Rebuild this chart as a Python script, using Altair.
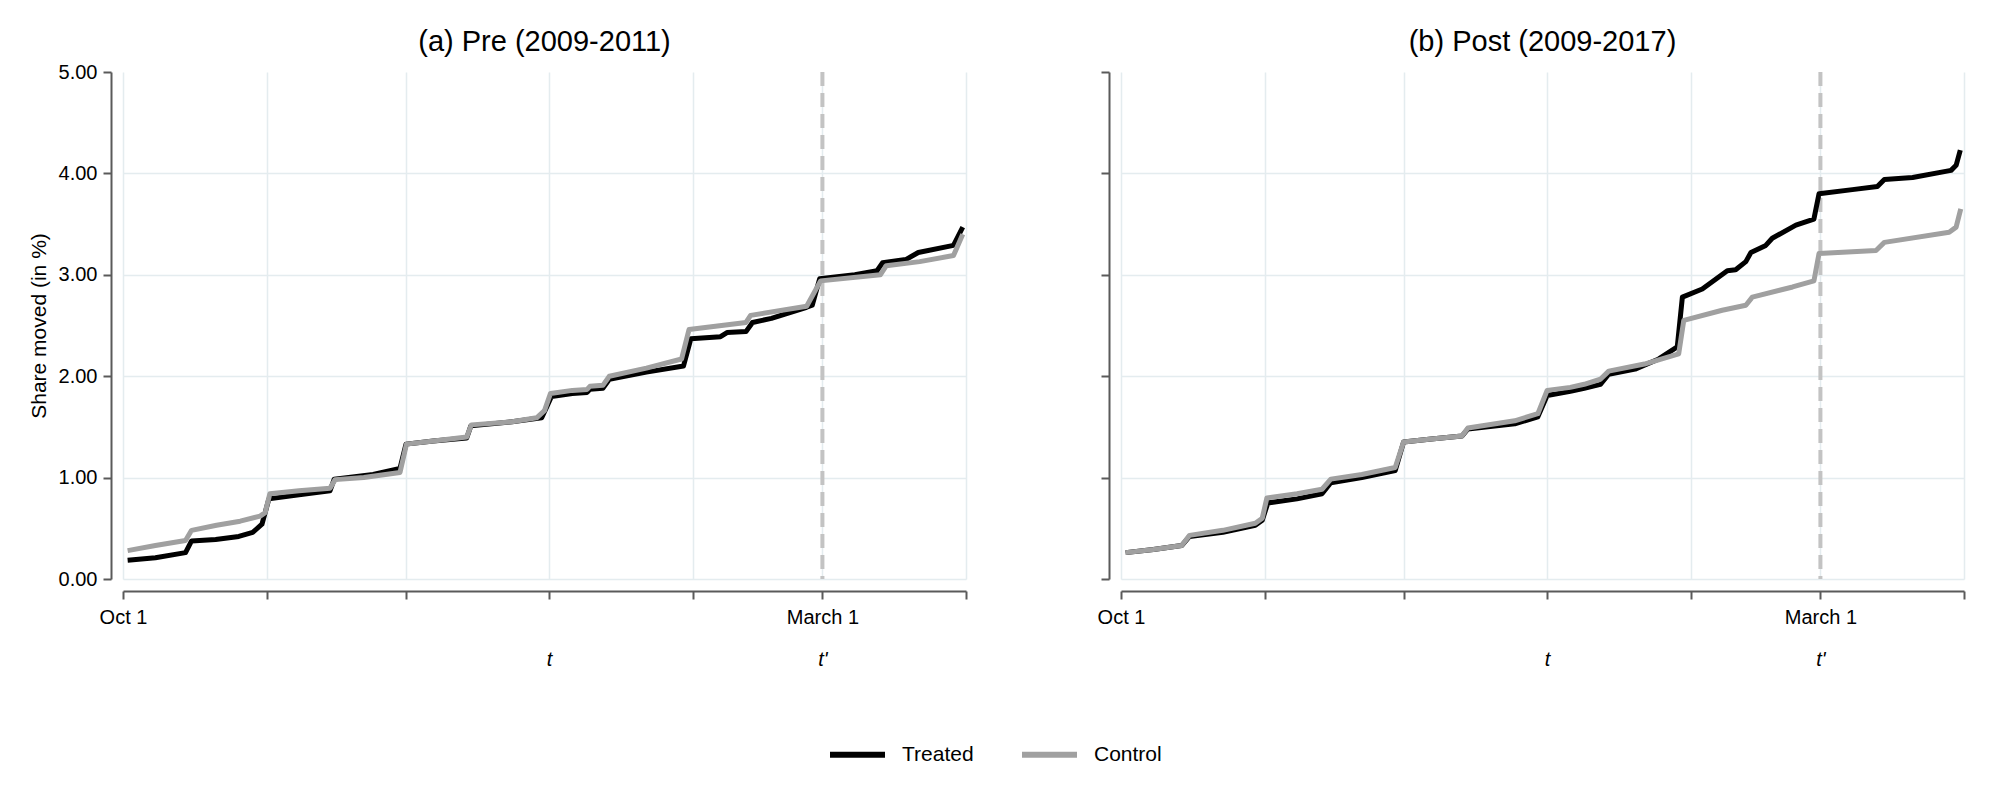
import altair as alt
import pandas as pd

# ---------------- data (days since Oct 1, share moved in %) ----------------
pre_treated_days = [1, 7, 13.5, 14.8, 20, 25, 28, 30, 31.5, 38, 44.7, 45.6, 54, 59.8, 61.1, 67, 74.2, 75.1, 84,
                    90.4, 91.5, 92.5, 97, 100.2, 100.8, 103.6, 105, 113, 121, 122.6, 129, 130.4, 134.5, 135.9,
                    140, 147.6, 148.8, 150.4, 158, 162.8, 164, 169, 171.7, 179.3, 181.3]
pre_treated = [0.185, 0.21, 0.26, 0.375, 0.39, 0.42, 0.46, 0.54, 0.79, 0.83, 0.87, 0.985, 1.03, 1.09, 1.33, 1.36,
               1.39, 1.51, 1.55, 1.59, 1.70, 1.80, 1.83, 1.84, 1.87, 1.88, 1.97, 2.04, 2.10, 2.37, 2.39, 2.43,
               2.44, 2.53, 2.57, 2.68, 2.70, 2.96, 3.00, 3.04, 3.12, 3.15, 3.22, 3.29, 3.47]

pre_control_days = [1, 7, 13.5, 14.8, 20.2, 25.3, 29.6, 30.7, 31.7, 38, 44.7, 45.8, 52, 59.8, 61.2, 67, 74.2, 75.2,
                    84, 89.3, 91, 92.3, 97, 100.2, 100.8, 103.6, 105, 113, 120.6, 122.2, 134.5, 135.5, 147.6,
                    150.6, 163.5, 164.8, 172, 179.3, 181.3]
pre_control = [0.28, 0.33, 0.38, 0.48, 0.53, 0.57, 0.62, 0.655, 0.84, 0.87, 0.896, 0.98, 1.00, 1.05, 1.33, 1.36,
               1.40, 1.52, 1.55, 1.59, 1.66, 1.83, 1.86, 1.87, 1.90, 1.91, 2.00, 2.08, 2.17, 2.46, 2.53, 2.60,
               2.69, 2.94, 3.00, 3.09, 3.13, 3.19, 3.40]

post_treated_days = [1, 7, 13.1, 14.8, 22, 29, 30.5, 31.7, 38, 43.4, 45.3, 52, 59.2, 61, 67, 73.6, 74.9, 85, 90,
                     92, 97, 100, 103.5, 105.3, 111, 116.1, 120.1, 121.2, 125.5, 130.9, 132.7, 134.9, 136, 139.2,
                     140.6, 145.7, 149.6, 150.7, 157.9, 163.3, 164.8, 170.9, 179.2, 180.3, 181.2]
post_treated = [0.26, 0.29, 0.33, 0.42, 0.46, 0.53, 0.58, 0.75, 0.79, 0.84, 0.95, 1.00, 1.07, 1.35, 1.38, 1.41,
                1.48, 1.53, 1.60, 1.81, 1.85, 1.88, 1.92, 2.02, 2.07, 2.17, 2.29, 2.78, 2.86, 3.04, 3.05, 3.13,
                3.22, 3.29, 3.36, 3.49, 3.55, 3.80, 3.84, 3.87, 3.94, 3.96, 4.03, 4.08, 4.23]

post_control_days = [1, 7, 13.1, 14.8, 22, 29, 30.5, 31.5, 38, 43.4, 45.3, 52, 59.2, 61, 67, 73.6, 74.9, 85, 90,
                     92, 97, 100, 103.5, 105.3, 113, 120.4, 121.5, 129.8, 134.9, 136.3, 145, 149.6, 150.7, 163,
                     164.8, 178.8, 180.3, 181.3]
post_control = [0.26, 0.29, 0.33, 0.43, 0.48, 0.55, 0.60, 0.80, 0.84, 0.885, 0.985, 1.03, 1.10, 1.35, 1.38, 1.41,
                1.49, 1.56, 1.63, 1.86, 1.89, 1.92, 1.97, 2.05, 2.12, 2.22, 2.55, 2.65, 2.70, 2.78, 2.88, 2.94,
                3.21, 3.24, 3.32, 3.42, 3.47, 3.65]

series_names = ["Treated", "Control"]
series_colors = ["#000000", "#a0a0a0"]
month_ticks = [0, 31, 61, 92, 123, 151, 182]   # Oct 1 ... April 1
t_ticks = [92, 151]                             # t (Jan 1), t' (March 1)
march1 = [151]
y_ticks = [0, 1, 2, 3, 4, 5]
panel_titles = ["(a) Pre (2009-2011)", "(b) Post (2009-2017)"]

FONT = "Liberation Sans"
AXIS_COL = "#5a5a5a"
GRID_COL = "#e4ecef"
W, H = 843, 507

x_scale = alt.Scale(domain=[0, 182], nice=False, zero=False)
y_scale = alt.Scale(domain=[0, 5], nice=False, zero=False)
color = alt.Color(
    "group:N",
    scale=alt.Scale(domain=series_names, range=series_colors),
    legend=alt.Legend(title=None),
)


def panel(t_days, t_vals, c_days, c_vals, title, first):
    df_t = pd.DataFrame({"day": t_days, "value": t_vals, "group": series_names[0]})
    df_c = pd.DataFrame({"day": c_days, "value": c_vals, "group": series_names[1]})

    main_x_axis = alt.Axis(
        values=month_ticks,
        labelExpr="datum.value == 0 ? 'Oct 1' : (datum.value == 151 ? 'March 1' : '')",
        title=None, grid=True, gridColor=GRID_COL, gridWidth=1.5,
        tickSize=8, tickWidth=2, tickColor=AXIS_COL,
        domainWidth=2, domainColor=AXIS_COL,
        labelFontSize=20, labelFont=FONT, labelColor="black", labelPadding=8,
        labelFlush=False, labelOverlap=False, offset=12, orient="bottom",
    )
    t_axis = alt.Axis(
        values=t_ticks,
        labelExpr="datum.value == 92 ? 't' : \"t'\"",
        title=None, grid=False, ticks=False, tickSize=0, domain=False,
        labelFontSize=20, labelFont=FONT, labelFontStyle="italic", labelColor="black",
        labelPadding=58, labelFlush=False, labelOverlap=False, offset=12, orient="bottom",
    )
    y_axis = alt.Axis(
        values=y_ticks, format=".2f",
        labelOpacity=1 if first else 0,
        title="Share moved (in %)" if first else "",
        titleFontSize=21, titleFont=FONT, titleFontWeight="normal", titleColor="black",
        titlePadding=9,
        grid=True, gridColor=GRID_COL, gridWidth=1.5,
        gridOpacity={"condition": {"test": "datum.value >= 5", "value": 0}, "value": 1},
        tickSize=8, tickWidth=2, tickColor=AXIS_COL,
        domainWidth=2, domainColor=AXIS_COL,
        labelFontSize=20, labelFont=FONT, labelColor="black", labelPadding=6,
        offset=12, orient="left",
    )

    rule = alt.Chart(pd.DataFrame({"day": march1})).mark_rule(
        color="#c3c3c3", strokeWidth=4, strokeDash=[14, 7]
    ).encode(x=alt.X("day:Q", scale=x_scale, axis=t_axis))

    line_t = alt.Chart(df_t).mark_line(strokeWidth=5, strokeJoin="round").encode(
        x=alt.X("day:Q", scale=x_scale, axis=main_x_axis),
        y=alt.Y("value:Q", scale=y_scale, axis=y_axis),
        color=color,
    )
    line_c = alt.Chart(df_c).mark_line(strokeWidth=5, strokeJoin="round").encode(
        x=alt.X("day:Q", scale=x_scale, axis=main_x_axis),
        y=alt.Y("value:Q", scale=y_scale, axis=y_axis),
        color=color,
    )
    lines = alt.layer(line_t, line_c)

    return alt.layer(rule, lines).resolve_axis(x="independent").properties(
        width=W, height=H,
        title=alt.TitleParams(
            text=title, fontSize=29, font=FONT, fontWeight="normal", color="black",
            anchor="middle", frame="group", baseline="alphabetic", offset=-18,
        ),
    )


left = panel(pre_treated_days, pre_treated, pre_control_days, pre_control, panel_titles[0], True)
right = panel(post_treated_days, post_treated, post_control_days, post_control, panel_titles[1], False)

chart = (
    alt.hconcat(left, right, spacing=155, bounds="flush")
    .resolve_scale(color="shared")
    .configure_view(stroke=None)
    .configure_legend(
        orient="none", legendX=704, legendY=652, direction="horizontal",
        symbolType="stroke", symbolSize=3025, symbolStrokeWidth=6,
        labelFontSize=21, labelFont=FONT, labelColor="black", labelOffset=14,
        columnPadding=36, padding=0,
    )
    .properties(padding={"left": 20, "top": 20, "right": 10, "bottom": 10}, background="white")
)

chart.save("out.html", embed_options={"renderer": "svg", "actions": False})
